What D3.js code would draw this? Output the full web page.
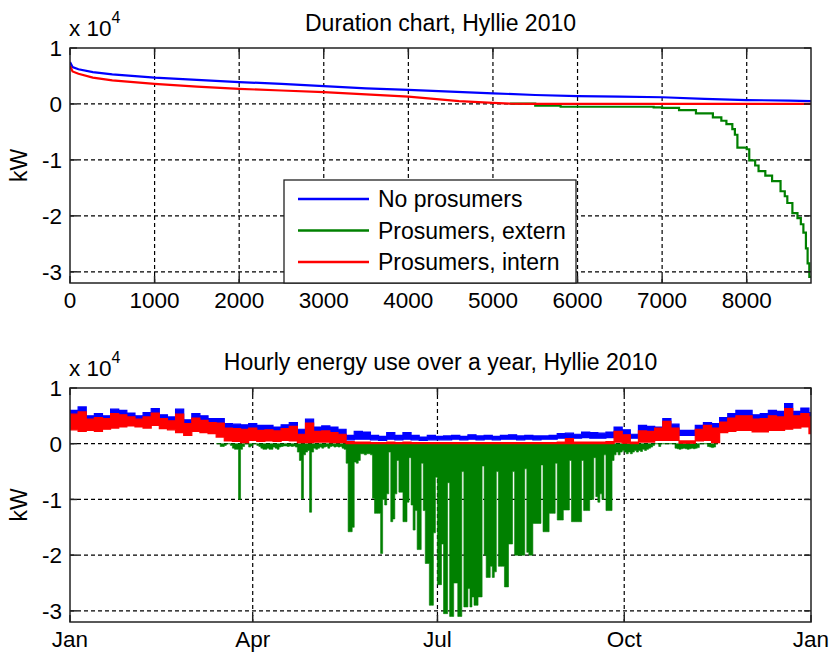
<!DOCTYPE html>
<html>
<head>
<meta charset="utf-8">
<script src="https://cdn.jsdelivr.net/npm/d3@7"></script>
<style>
  body { margin: 0; background: #fff; }
  svg text { font-family: Arial, "Liberation Sans", sans-serif; fill: #000; }
</style>
</head>
<body>
<div id="chart"></div>
<script>
// ---- data (values in units of 10^4 kW) ----

// duration chart: hour of the sorted year and load
var durBlueH = [0, 30, 100, 270, 500, 1000, 1500, 2000, 2500, 3000, 3500, 4000, 4500, 5000, 5500, 6000, 6500, 7000, 7500, 8000, 8500, 8760];
var durBlue  = [0.75, 0.66, 0.62, 0.57, 0.53, 0.47, 0.43, 0.39, 0.36, 0.32, 0.28, 0.25, 0.22, 0.19, 0.16, 0.14, 0.13, 0.12, 0.09, 0.07, 0.06, 0.05];

var durRedH = [0, 30, 100, 270, 500, 1000, 1500, 2000, 2500, 3000, 3500, 4000, 4300, 4600, 5000, 5200, 5500, 8760];
var durRed  = [0.68, 0.58, 0.54, 0.47, 0.42, 0.36, 0.31, 0.27, 0.24, 0.21, 0.17, 0.13, 0.09, 0.05, 0.02, 0.005, 0, 0];

// extern follows intern while positive (hidden under red), so only the part from 5200 h
var durGreenH = [5200, 5500, 5800,
                 6900, 7000, 7200, 7400, 7600, 7700, 7760, 7830, 7860, 7890, 8000, 8030, 8100, 8140, 8220, 8300, 8400,
                 8450, 8480, 8540, 8600, 8640, 8670, 8700, 8720, 8740, 8760];
var durGreen  = [0.005, -0.03, -0.05,
                 -0.06, -0.07, -0.11, -0.17, -0.24, -0.3, -0.36, -0.45, -0.55, -0.78, -0.81, -1.01, -1.1, -1.2, -1.28, -1.38, -1.56,
                 -1.65, -1.77, -1.95, -2.04, -2.15, -2.3, -2.58, -2.85, -3.09, -3.09];

// hourly chart, summarised as high / low per 4-day block (day 0, 4, 8, ...)
var blueHi = [0.60,0.66,0.50,0.54,0.50,0.62,0.60,0.55,0.50,0.56,0.63,0.52,0.48,0.62,0.43,0.54,0.50,0.45,0.45,0.36,0.35,0.34,0.36,
              0.33,0.33,0.30,0.34,0.38,0.26,0.44,0.30,0.32,0.30,0.26,0.15,0.22,0.21,0.15,0.13,0.20,0.15,0.20,0.15,0.12,0.15,
              0.13,0.14,0.15,0.13,0.16,0.14,0.15,0.13,0.15,0.16,0.14,0.15,0.14,0.14,0.15,0.18,0.19,0.17,0.21,0.20,0.19,0.21,0.30,
              0.25,0.17,0.33,0.31,0.30,0.45,0.35,0.24,0.24,0.33,0.38,0.36,0.47,0.54,0.60,0.60,0.52,0.54,0.60,0.58,0.72,0.58,0.64,0.56];
var blueLo = [0.45,0.45,0.38,0.40,0.40,0.45,0.45,0.42,0.40,0.42,0.46,0.40,0.36,0.42,0.30,0.38,0.36,0.32,0.30,0.22,0.20,0.20,0.22,
              0.20,0.20,0.18,0.22,0.24,0.14,0.24,0.18,0.18,0.16,0.14,0.07,0.08,0.08,0.07,0.06,0.08,0.07,0.08,0.07,0.06,0.07,
              0.07,0.07,0.08,0.07,0.08,0.07,0.08,0.07,0.08,0.08,0.07,0.08,0.07,0.08,0.08,0.10,0.11,0.10,0.11,0.10,0.10,0.11,0.18,
              0.16,0.10,0.22,0.20,0.22,0.30,0.24,0.15,0.15,0.22,0.28,0.24,0.36,0.42,0.45,0.44,0.40,0.40,0.44,0.43,0.55,0.46,0.48,0.42];
var redHi  = [0.53,0.57,0.44,0.47,0.45,0.54,0.52,0.48,0.44,0.48,0.55,0.45,0.41,0.53,0.36,0.46,0.42,0.38,0.37,0.28,0.27,0.26,0.28,
              0.24,0.25,0.23,0.27,0.31,0.17,0.37,0.22,0.23,0.20,0.17,0.04,0.03,0.03,0.02,0.02,0.03,0.02,0.03,0.02,0.02,0.02,
              0.02,0.02,0.02,0.02,0.02,0.02,0.02,0.02,0.02,0.02,0.02,0.02,0.02,0.02,0.02,0.03,0.09,0.03,0.03,0.03,0.03,0.04,0.22,
              0.16,0.03,0.23,0.22,0.28,0.40,0.28,0.05,0.05,0.26,0.33,0.28,0.39,0.46,0.50,0.50,0.44,0.45,0.50,0.48,0.63,0.50,0.54,0.48];
var redLo  = [0.25,0.22,0.24,0.22,0.26,0.28,0.30,0.32,0.30,0.28,0.33,0.27,0.25,0.20,0.15,0.22,0.20,0.18,0.12,0.05,0.04,0.02,0.06,
              0.04,0.05,0.04,0.06,0.05,0.02,0.02,0.03,0.03,0.02,0.02,0,0,0,0,0,0,0,0,0,0,0,
              0,0,0,0,0,0,0,0,0,0,0,0,0,0,0,0,0,0,0,0,0,0,0.03,
              0.01,0,0.03,0.03,0.06,0.06,0.06,0.01,0.01,0.05,0.06,0.02,0.20,0.22,0.24,0.24,0.21,0.21,0.24,0.24,0.26,0.28,0.30,0.18];

// extern (green) lowest value per day, from day 72 to day 318 (zero the rest of the year)
var greenFirstDay = 72;
var greenMin = [
  0, 0, -0.05, -0.05, -0.03, 0, 0, -0.03, -0.08, -0.1,
  -0.1, -1.0, -0.1, -0.05, 0, 0, -0.06, -0.04, 0, 0,
  -0.03, -0.05, -0.08, -0.1, -0.1, -0.08, -0.1, -0.1, -0.06, -0.08,
  -0.1, -0.06, -0.05, -0.04, -0.04, -0.05, -0.04, -0.05, -0.04, -0.06,
  -0.15, -0.3, -0.99, -0.2, -0.15, -0.12, -1.23, -0.15, -0.08, -0.1,
  -0.08, -0.06, -0.08, -0.06, -0.05, -0.08, -0.05, -0.04, -0.06, -0.05,
  -0.06, -0.05, -0.08, -0.1, -0.35, -1.58, -1.58, -1.5, -0.33, -0.35,
  -0.3, -0.18, -0.18, -0.2, -0.18, -0.18, -0.2, -0.98, -1.25, -1.25,
  -1.25, -1.97, -1.0, -1.1, -0.9, -0.15, -1.4, -1.35, -0.9, -0.3,
  -0.87, -0.87, -1.4, -1.4, -1.05, -0.25, -1.1, -1.55, -1.2, -1.9,
  -1.9, -0.35, -1.2, -2.15, -2.15, -2.9, -2.9, -1.6, -0.6, -2.53,
  -2.53, -1.8, -3.05, -3.05, -0.7, -3.1, -3.1, -2.5, -2.5, -3.1,
  -3.1, -0.5, -2.93, -2.93, -2.6, -2.93, -2.75, -2.9, -2.9, -2.75,
  -2.75, -0.4, -2.0, -2.4, -2.4, -2.2, -2.4, -2.3, -0.5, -2.2,
  -2.2, -2.2, -2.57, -2.57, -1.8, -1.8, -0.5, -2.0, -2.0, -2.0,
  -2.0, -2.0, -0.45, -1.95, -2.0, -2.0, -1.43, -1.43, -1.43, -1.43,
  -0.38, -1.58, -1.58, -1.58, -1.25, -1.25, -1.25, -0.35, -1.37, -1.37,
  -1.37, -1.19, -1.19, -1.19, -0.3, -1.4, -1.4, -1.4, -1.4, -1.4,
  -0.3, -1.2, -1.2, -1.2, -1.0, -1.0, -0.25, -0.95, -1.05, -0.9,
  -1.0, -0.2, -1.2, -1.2, -1.2, -0.3, -0.2, -0.15, -0.2, -0.15,
  -0.12, -0.15, -0.18, -0.15, -0.18, -0.15, -0.12, -0.15, -0.12, -0.14,
  -0.1, -0.12, -0.1, -0.08, -0.06, -0.03, 0, 0, -0.05, 0,
  0, 0, 0, 0, 0, 0, -0.08, -0.09, -0.1, -0.09,
  -0.08, -0.09, -0.1, -0.09, -0.08, -0.09, -0.08, -0.07, 0, 0,
  0, 0, -0.05, -0.06, -0.07, -0.06, 0];

var seriesNames = ["No prosumers", "Prosumers, extern", "Prosumers, intern"];
var seriesColors = ["#0000ff", "#008000", "#ff0000"];
var yTicks = [-3, -2, -1, 0, 1];
var hourTicks = [0, 1000, 2000, 3000, 4000, 5000, 6000, 7000, 8000];

// ---- layout ----
var left = 70, right = 811;
var svg = d3.select("#chart").append("svg")
  .attr("width", 832).attr("height", 653);

function yScale(top, bottom) {
  return d3.scaleLinear().domain([-3.2, 1]).range([bottom, top]);
}

// grid, box, inward ticks and labels the MATLAB way
function drawAxes(name, x, y, xTickVals, xFmt, top, bottom, xLabelY, title, titleY) {
  var g = svg.append("g");
  // grid
  g.selectAll(".gx").data(xTickVals.filter(function(v) { return x(v) > left + 1 && x(v) < right - 1; }))
    .enter().append("line")
    .attr("x1", function(d) { return x(d); }).attr("x2", function(d) { return x(d); })
    .attr("y1", top).attr("y2", bottom)
    .attr("stroke", "#000").attr("stroke-width", 1.2).attr("stroke-dasharray", "4,3");
  g.selectAll(".gy").data(yTicks.filter(function(v) { return y(v) > top + 1; }))
    .enter().append("line")
    .attr("x1", left).attr("x2", right)
    .attr("y1", function(d) { return y(d); }).attr("y2", function(d) { return y(d); })
    .attr("stroke", "#000").attr("stroke-width", 1.2).attr("stroke-dasharray", "4,3");

  svg.append("clipPath").attr("id", "clip-" + name)
    .append("rect").attr("x", left).attr("y", top).attr("width", right - left).attr("height", bottom - top);
  var plot = svg.append("g").attr("clip-path", "url(#clip-" + name + ")");

  var frame = svg.append("g");
  frame.append("rect").attr("x", left).attr("y", top).attr("width", right - left).attr("height", bottom - top)
    .attr("fill", "none").attr("stroke", "#222").attr("stroke-width", 1.5);
  xTickVals.forEach(function(v) {
    frame.append("line").attr("x1", x(v)).attr("x2", x(v)).attr("y1", bottom).attr("y2", bottom - 7).attr("stroke", "#222").attr("stroke-width", 1.5);
    frame.append("line").attr("x1", x(v)).attr("x2", x(v)).attr("y1", top).attr("y2", top + 7).attr("stroke", "#222").attr("stroke-width", 1.5);
    frame.append("text").attr("x", x(v)).attr("y", xLabelY).attr("text-anchor", "middle")
      .style("font-size", "22.5px").text(xFmt(v));
  });
  yTicks.forEach(function(v) {
    frame.append("line").attr("x1", left).attr("x2", left + 7).attr("y1", y(v)).attr("y2", y(v)).attr("stroke", "#222").attr("stroke-width", 1.5);
    frame.append("line").attr("x1", right).attr("x2", right - 7).attr("y1", y(v)).attr("y2", y(v)).attr("stroke", "#222").attr("stroke-width", 1.5);
    frame.append("text").attr("x", left - 8).attr("y", y(v)).attr("dy", "0.36em").attr("text-anchor", "end")
      .style("font-size", "22.5px").text(v);
  });

  // x 10^4 multiplier
  var m = frame.append("text").attr("x", left - 1).attr("y", top - 12).style("font-size", "22.5px");
  m.append("tspan").text("x 10");
  m.append("tspan").attr("dy", -13).style("font-size", "16px").text("4");

  frame.append("text").attr("transform", "translate(27," + ((top + bottom) / 2) + ") rotate(-90)")
    .attr("text-anchor", "middle").style("font-size", "23px").text("kW");
  frame.append("text").attr("x", (left + right) / 2).attr("y", titleY).attr("text-anchor", "middle")
    .style("font-size", "23px").text(title);
  return plot;
}

// ---- top: duration chart ----
var top1 = 48, bot1 = 283;
var x1 = d3.scaleLinear().domain([0, 8760]).range([left, right]);
var y1 = yScale(top1, bot1);
var plot1 = drawAxes("dur", x1, y1, hourTicks, function(v) { return v; }, top1, bot1, 308,
  "Duration chart, Hyllie 2010", 31);

var durSets = [
  {h: durBlueH, v: durBlue, c: seriesColors[0], curve: d3.curveLinear},
  {h: durGreenH, v: durGreen, c: seriesColors[1], curve: d3.curveStepAfter},
  {h: durRedH, v: durRed, c: seriesColors[2], curve: d3.curveLinear}
];
durSets.forEach(function(s) {
  var line = d3.line().curve(s.curve)
    .x(function(d, i) { return x1(s.h[i]); })
    .y(function(d) { return y1(d); });
  plot1.append("path").datum(s.v).attr("d", line)
    .attr("fill", "none").attr("stroke", s.c).attr("stroke-width", 2.2);
});

// legend
var lg = svg.append("g");
lg.append("rect").attr("x", 284).attr("y", 180).attr("width", 292).attr("height", 103)
  .attr("fill", "#fff").attr("stroke", "#222").attr("stroke-width", 1.3);
seriesNames.forEach(function(n, i) {
  var ry = 199 + i * 31.5;
  lg.append("line").attr("x1", 298).attr("x2", 369).attr("y1", ry).attr("y2", ry)
    .attr("stroke", seriesColors[i]).attr("stroke-width", 2.5);
  lg.append("text").attr("x", 378).attr("y", ry).attr("dy", "0.36em")
    .style("font-size", "23px").text(n);
});

// ---- bottom: hourly energy use ----
var top2 = 388, bot2 = 622;
var t0 = new Date(Date.UTC(2010, 0, 1));
var x2 = d3.scaleUtc().domain([t0, new Date(Date.UTC(2011, 0, 1))]).range([left, right]);
var y2 = yScale(top2, bot2);
var monthTicks = d3.utcMonth.every(3).range(t0, new Date(Date.UTC(2011, 0, 2)));
var plot2 = drawAxes("year", x2, y2, monthTicks, d3.utcFormat("%b"), top2, bot2, 647,
  "Hourly energy use over a year, Hyllie 2010", 370);

function dayDate(d) { return d3.utcHour.offset(t0, Math.round(d * 24)); }

function bandRows(hi, lo) {
  var rows = hi.map(function(v, k) { return {day: k * 4, hi: v, lo: lo[k]}; });
  rows.push({day: 365, hi: hi[hi.length - 1], lo: lo[lo.length - 1]});
  return rows;
}
var band = d3.area().curve(d3.curveStepAfter)
  .x(function(d) { return x2(dayDate(d.day)); })
  .y0(function(d) { return y2(d.lo); })
  .y1(function(d) { return y2(d.hi); });

plot2.append("path").datum(bandRows(blueHi, blueLo)).attr("d", band)
  .attr("fill", seriesColors[0]).attr("stroke", seriesColors[0]).attr("stroke-width", 1.2);

// extern as one stepped area from 0 down to each day's low
var greenRows = greenMin.map(function(v, i) { return {day: greenFirstDay + i, hi: 0, lo: v}; });
greenRows.push({day: greenFirstDay + greenMin.length, hi: 0, lo: 0});
plot2.append("path").datum(greenRows).attr("d", band)
  .attr("fill", seriesColors[1]).attr("stroke", seriesColors[1]).attr("stroke-width", 0.6);

plot2.append("path").datum(bandRows(redHi, redLo)).attr("d", band)
  .attr("fill", seriesColors[2]).attr("stroke", seriesColors[2]).attr("stroke-width", 1.2);
</script>
</body>
</html>
